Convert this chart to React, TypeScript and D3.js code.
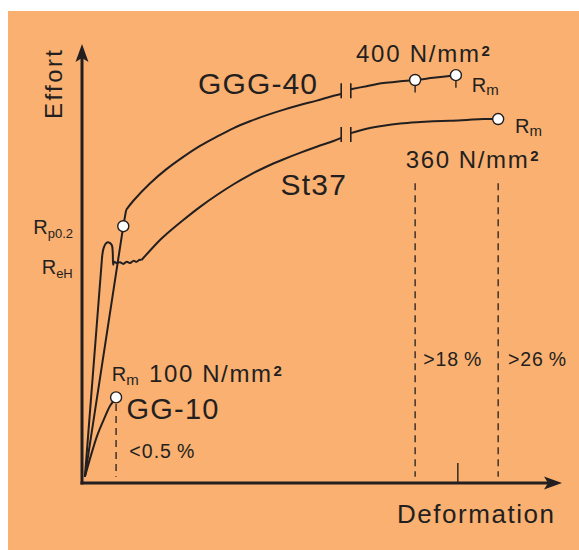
import React from "react";
import * as d3 from "d3";

const W = 579;
const H = 550;

// Schematic stress–strain diagram, values in arbitrary units (0..100)
// GG-10 (grey cast iron)
const gg10X = [0.6, 1.9, 3.2, 4.6, 5.8, 7.1];
const gg10Y = [1.4, 6.4, 10.9, 14.6, 17.5, 19.5];

// GGG-40 (nodular cast iron)
const ggg40ElasticX = [0.6, 8.6, 9.2];
const ggg40ElasticY = [1.4, 58.5, 62.2];
const ggg40HardenX = [9.2, 10.7, 14.2, 17.6, 21.1, 24.6, 28.1, 31.5, 35.0, 38.5, 41.9, 45.4, 48.9, 52.4, 54.0];
const ggg40HardenY = [62.2, 64.3, 68.3, 71.5, 74.3, 76.8, 78.9, 80.8, 82.4, 83.8, 85.0, 86.1, 87.1, 88.2, 88.6];
const ggg40TailX = [56.0, 59.3, 62.8, 66.3, 69.4, 73.2, 77.9];
const ggg40TailY = [89.7, 90.4, 91.1, 91.5, 91.8, 92.3, 92.9];

// St37 (structural steel)
const st37ElasticX = [0.6, 4.2];
const st37ElasticY = [1.4, 51.7];
const st37YieldX = [4.2, 4.5, 5.0, 5.6, 6.2, 6.4, 6.5, 6.7, 7.2, 7.9, 8.6, 9.3, 10.0, 10.7, 11.4, 11.9, 12.4];
const st37YieldY = [51.7, 53.5, 54.6, 54.8, 54.2, 52.6, 49.7, 50.4, 50.1, 50.3, 49.9, 50.4, 50.1, 50.6, 50.4, 50.8, 50.8];
const st37HardenX = [12.4, 16.3, 17.6, 21.1, 24.6, 28.1, 31.5, 35.0, 38.5, 41.9, 45.4, 48.9, 52.4, 54.0];
const st37HardenY = [50.8, 55.4, 56.7, 59.9, 62.9, 65.6, 68.0, 70.2, 72.1, 73.7, 75.2, 76.6, 77.9, 78.6];
const st37TailX = [56.0, 59.3, 62.8, 66.3, 69.7, 73.2, 76.7, 80.2, 83.6, 86.7];
const st37TailY = [79.7, 80.7, 81.4, 81.9, 82.2, 82.4, 82.5, 82.7, 82.9, 82.9];

// Marked points (open circles)
const markX = [8.6, 69.4, 77.9, 86.7, 7.1];
const markY = [58.5, 91.8, 92.9, 82.9, 19.5];
const markTick = [false, true, true, false, false];

// Elongation at break (dashed verticals)
const elongX = [7.1, 69.4, 86.7];
const elongTop = [19.5, 68.3, 68.3];
const elongLabels = ["<0.5\u2009%", ">18\u2009%", ">26\u2009%"];

// axis break positions and extra x tick
const breakX = [54.0, 56.0];
const extraTickX = [78.3];

const INK = "#231F20";
const BG = "#F9B070";
const FONT = "'Liberation Sans', Arial, Helvetica, sans-serif";

type P = [number, number];
const zip = (xs: number[], ys: number[]): P[] => xs.map((v, i) => [v, ys[i]] as P);

export default function App() {
  const x = d3.scaleLinear().domain([0, 100]).range([82, 562]);
  const y = d3.scaleLinear().domain([0, 100]).range([483, 44]);

  const lin = d3.line<P>().x((d) => x(d[0])).y((d) => y(d[1])).curve(d3.curveLinear);
  const smooth = d3
    .line<P>()
    .x((d) => x(d[0]))
    .y((d) => y(d[1]))
    .curve(d3.curveCatmullRom.alpha(0.5));

  const curves: string[] = [
    smooth(zip(gg10X, gg10Y)) as string,
    lin(zip(ggg40ElasticX, ggg40ElasticY)) as string,
    smooth(zip(ggg40HardenX, ggg40HardenY)) as string,
    smooth(zip(ggg40TailX, ggg40TailY)) as string,
    lin(zip(st37ElasticX, st37ElasticY)) as string,
    smooth(zip(st37YieldX, st37YieldY)) as string,
    smooth(zip(st37HardenX, st37HardenY)) as string,
    smooth(zip(st37TailX, st37TailY)) as string,
  ];

  const breaks = [
    { a: ggg40HardenY[ggg40HardenY.length - 1], b: ggg40TailY[0] },
    { a: st37HardenY[st37HardenY.length - 1], b: st37TailY[0] },
  ];

  const r = 5.5;
  const x0 = x(0);
  const y0 = y(0);
  const xEnd = x(100);
  const yEnd = y(100);

  const mmLabels = [
    { t: "400 N/mm", x: 356, y: 62.3, len: 123 },
    { t: "360 N/mm", x: 405.7, y: 167.7, len: 122 },
    { t: "100 N/mm", x: 149, y: 382.3, len: 122 },
  ];
  const rmLabels = [
    { x: 471.7, y: 91.7, sub: "m" },
    { x: 515, y: 132.7, sub: "m" },
    { x: 111.7, y: 381, sub: "m" },
    { x: 33.3, y: 234, sub: "p0.2" },
    { x: 41.7, y: 274, sub: "eH" },
  ];
  const pctPos = [
    { x: 129.3, y: 458.3, len: 65 },
    { x: 423.3, y: 366, len: 58 },
    { x: 508, y: 366, len: 58 },
  ];

  return (
    <svg
      width={W}
      height={H}
      style={{ position: "absolute", left: 0, top: 0, background: "#fff" }}
      fontFamily={FONT}
    >
      <rect x={8} y={11} width={W - 8} height={H - 11} fill={BG} />

      {/* dashed elongation lines */}
      {elongX.map((ex, i) => (
        <line
          key={"el" + i}
          x1={x(ex)}
          x2={x(ex)}
          y1={i === 0 ? y(elongTop[i]) + r + 1 : y(elongTop[i])}
          y2={y(1.4)}
          stroke={INK}
          strokeWidth={1.3}
          strokeDasharray="7,5"
        />
      ))}
      {extraTickX.map((tx, i) => (
        <line key={"et" + i} x1={x(tx)} x2={x(tx)} y1={y0} y2={y0 - 20} stroke={INK} strokeWidth={1.4} />
      ))}

      {/* curves */}
      {curves.map((d, i) => (
        <path key={"c" + i} d={d} fill="none" stroke={INK} strokeWidth={2} strokeLinejoin="round" />
      ))}

      {/* break marks */}
      {breaks.map((b, i) => {
        const c = (y(b.a) + y(b.b)) / 2 - 1;
        return breakX.map((bx, j) => (
          <line
            key={"b" + i + j}
            x1={x(bx)}
            x2={x(bx)}
            y1={c - 7.5}
            y2={c + 7.5}
            stroke={INK}
            strokeWidth={1.6}
          />
        ));
      })}

      {/* ticks below Rm circles */}
      {markX.map((mx, i) =>
        markTick[i] ? (
          <line key={"mt" + i} x1={x(mx)} x2={x(mx)} y1={y(markY[i]) + r} y2={y(markY[i]) + r + 7} stroke={INK} strokeWidth={1.4} />
        ) : null
      )}

      {/* circles */}
      {markX.map((mx, i) => (
        <circle key={"m" + i} cx={x(mx)} cy={y(markY[i])} r={r} fill="#fff" stroke={INK} strokeWidth={1.4} />
      ))}

      {/* axes */}
      <line x1={x0} x2={x0} y1={y0 + 1.5} y2={yEnd + 12} stroke={INK} strokeWidth={3} />
      <line x1={x0 - 1.5} x2={xEnd - 12} y1={y0} y2={y0} stroke={INK} strokeWidth={3} />
      <path
        d={`M${x0},${yEnd} L${x0 + 6.5},${yEnd + 18} L${x0},${yEnd + 14} L${x0 - 6.5},${yEnd + 18} Z`}
        fill={INK}
      />
      <path
        d={`M${xEnd},${y0} L${xEnd - 18},${y0 - 6.5} L${xEnd - 14},${y0} L${xEnd - 18},${y0 + 6.5} Z`}
        fill={INK}
      />

      {/* axis titles */}
      <text transform="translate(62,119) rotate(-90)" fontSize={24} fill={INK} textLength={69} lengthAdjust="spacing">
        Effort
      </text>
      <text x={397} y={523} fontSize={26} fill={INK} textLength={157} lengthAdjust="spacing">
        Deformation
      </text>

      {/* material names */}
      <text x={198} y={94.3} fontSize={30} fill={INK} textLength={119} lengthAdjust="spacing">
        GGG-40
      </text>
      <text x={280.5} y={195} fontSize={30} fill={INK} textLength={65.5} lengthAdjust="spacing">
        St37
      </text>
      <text x={126.5} y={419} fontSize={29} fill={INK} textLength={92} lengthAdjust="spacing">
        GG-10
      </text>

      {/* strength values */}
      {mmLabels.map((l, i) => (
        <g key={"mm" + i}>
          <text x={l.x} y={l.y} fontSize={24} fill={INK} textLength={l.len} lengthAdjust="spacing">
            {l.t}
          </text>
          <text x={l.x + l.len + 2.5} y={l.y - 6.5} fontSize={15} fontWeight="bold" fill={INK}>
            2
          </text>
        </g>
      ))}

      {/* R labels */}
      {rmLabels.map((l, i) => (
        <text key={"r" + i} x={l.x} y={l.y} fontSize={20} fill={INK}>
          R
          <tspan fontSize={l.sub === "m" ? 15 : 13} dy={3.5}>
            {l.sub}
          </tspan>
        </text>
      ))}

      {/* elongation labels */}
      {elongLabels.map((t, i) => (
        <text
          key={"pl" + i}
          x={pctPos[i].x}
          y={pctPos[i].y}
          fontSize={19.5}
          fill={INK}
          textLength={pctPos[i].len}
          lengthAdjust="spacing"
        >
          {t}
        </text>
      ))}
    </svg>
  );
}
